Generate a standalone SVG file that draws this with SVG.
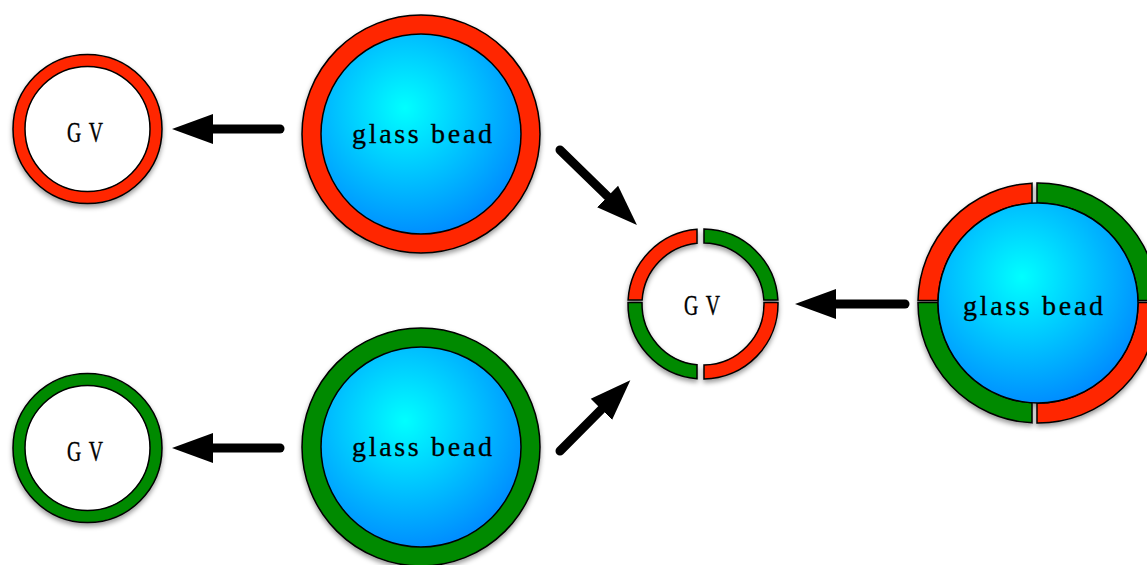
<svg xmlns="http://www.w3.org/2000/svg" width="1147" height="565" viewBox="0 0 1147 565">
<defs>
<style>
.red{fill:#ff2600;stroke:#000;stroke-width:1.5}
.green{fill:#008a00;stroke:#000;stroke-width:1.5}
.white{fill:#fff;stroke:#000;stroke-width:1.5}
.bead{fill:url(#blue);stroke:#000;stroke-width:1.5}
.lbl{font-family:"Liberation Serif","Times New Roman",serif;font-size:29px;fill:#000;stroke:#000;stroke-width:0.4}
.blbl{font-family:"Liberation Serif","Times New Roman",serif;font-size:28px;fill:#000;stroke:#000;stroke-width:0.3}
.conn line{stroke:#000;stroke-width:9;stroke-linecap:round;fill:none}
</style>
<radialGradient id="blue" cx="0.42" cy="0.37" r="0.65" fx="0.42" fy="0.37">
<stop offset="0" stop-color="#00ffff"/>
<stop offset="1" stop-color="#008cff"/>
</radialGradient>
<filter id="sh" x="-10%" y="-10%" width="120%" height="125%">
<feDropShadow dx="0" dy="3" stdDeviation="2.5" flood-color="#000" flood-opacity="0.4"/>
</filter>
<marker id="ah" markerUnits="userSpaceOnUse" markerWidth="42" markerHeight="32" refX="0" refY="15" orient="auto" viewBox="0 0 42 30">
<path d="M0,0 L41,15 L0,30 Z" fill="#000"/>
</marker>
</defs>
<rect width="1147" height="565" fill="#fff"/>

<g id="gv-red">
<g filter="url(#sh)">
<circle class="red" cx="87.5" cy="129" r="74.5"/>
<circle class="white" cx="87.5" cy="129" r="62.5"/>
</g>
<text class="lbl" text-anchor="middle" transform="translate(85,142) scale(0.68,1)">G<tspan dx="11">V</tspan></text>
</g>

<g id="gv-green">
<g filter="url(#sh)">
<circle class="green" cx="87.5" cy="448" r="74.5"/>
<circle class="white" cx="87.5" cy="448" r="62.5"/>
</g>
<text class="lbl" text-anchor="middle" transform="translate(85,461) scale(0.68,1)">G<tspan dx="11">V</tspan></text>
</g>

<g id="bead-red">
<g filter="url(#sh)">
<circle class="red" cx="421" cy="134" r="119"/>
<circle class="bead" cx="421" cy="134" r="100"/>
</g>
<text class="blbl" x="352" y="143" textLength="140" lengthAdjust="spacing">glass bead</text>
</g>

<g id="bead-green">
<g filter="url(#sh)">
<circle class="green" cx="421" cy="447" r="119"/>
<circle class="bead" cx="421" cy="447" r="100"/>
</g>
<text class="blbl" x="352" y="456" textLength="140" lengthAdjust="spacing">glass bead</text>
</g>

<g id="gv-mixed">
<g filter="url(#sh)">
<path class="red" d="M628.11,300 A75,75 0 0 1 697,229.24 L697,243.30 A61,61 0 0 0 642.13,300 Z"/>
<path class="green" d="M704,229.01 A75,75 0 0 1 777.89,300 L763.87,300 A61,61 0 0 0 704,243.01 Z"/>
<path class="green" d="M628.02,302.5 A75,75 0 0 0 697,378.76 L697,364.70 A61,61 0 0 1 642.02,302.5 Z"/>
<path class="red" d="M777.98,302.5 A75,75 0 0 1 704,378.99 L704,364.99 A61,61 0 0 0 763.98,302.5 Z"/>
</g>
<text class="lbl" text-anchor="middle" transform="translate(702,315) scale(0.68,1)">G<tspan dx="11">V</tspan></text>
</g>

<g id="bead-mixed">
<g filter="url(#sh)">
<path class="red" d="M918.03,300.5 A120,120 0 0 1 1032,183.15 L1032,203.18 A100,100 0 0 0 938.03,300.5 Z"/>
<path class="green" d="M1037,183 A120,120 0 0 1 1157.97,300.5 L1137.97,300.5 A100,100 0 0 0 1037,203 Z"/>
<path class="green" d="M918,302.5 A120,120 0 0 0 1032,422.85 L1032,402.82 A100,100 0 0 1 938,302.5 Z"/>
<path class="red" d="M1158,302.5 A120,120 0 0 1 1037,423 L1037,403 A100,100 0 0 0 1138,302.5 Z"/>
<circle class="bead" cx="1038" cy="303" r="100"/>
</g>
<text class="blbl" x="963" y="315" textLength="140" lengthAdjust="spacing">glass bead</text>
</g>

<g id="connectors" class="conn">
<line x1="280" y1="129" x2="213" y2="129" marker-end="url(#ah)"/>
<line x1="280" y1="448" x2="213" y2="448" marker-end="url(#ah)"/>
<line x1="905" y1="304" x2="836" y2="304" marker-end="url(#ah)"/>
<line x1="560" y1="150" x2="607.6" y2="196.4" marker-end="url(#ah)"/>
<line x1="560" y1="451" x2="601.4" y2="409.4" marker-end="url(#ah)"/>
</g>
</svg>
